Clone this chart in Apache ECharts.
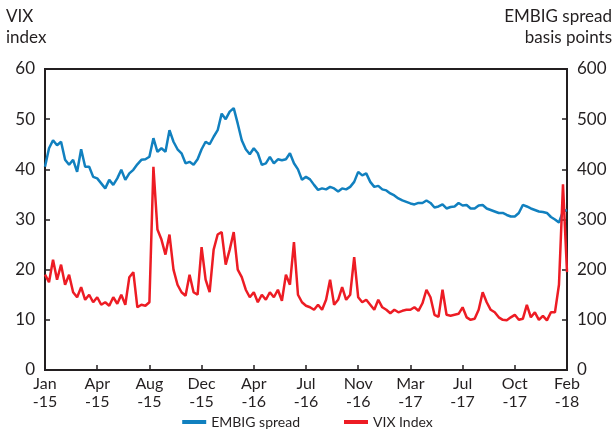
<!DOCTYPE html>
<html>
<head>
<meta charset="utf-8">
<script src="https://cdn.jsdelivr.net/npm/echarts@6/dist/echarts.min.js"></script>
<style>
  html, body { margin: 0; padding: 0; background: #fff; }
  #chart { width: 615px; height: 437px; }
</style>
</head>
<body>
<div id="chart"></div>
<script>
// tick labels, one every 13 points (points run Jan-15 .. Feb-18)
const tickLabels = ['Jan\n-15', 'Apr\n-15', 'Aug\n-15', 'Dec\n-15', 'Apr\n-16', 'Jul\n-16',
  'Nov\n-16', 'Mar\n-17', 'Jul\n-17', 'Oct\n-17', 'Feb\n-18']

// EMBIG spread, basis points (right axis)
const embig = [
  405, 442, 458, 448, 455, 419, 409, 419, 395, 440, 405, 405, 385,
  382, 372, 362, 379, 369, 382, 399, 379, 392, 399, 410, 419, 420,
  425, 462, 435, 442, 435, 478, 455, 440, 432, 412, 415, 409, 420,
  440, 455, 450, 465, 478, 511, 500, 515, 522, 491, 458, 440, 430,
  442, 432, 409, 412, 425, 412, 420, 418, 420, 432, 412, 400, 379,
  385, 380, 369, 359, 362, 360, 365, 362, 356, 362, 360, 365, 375,
  395, 388, 392, 375, 365, 367, 360, 358, 352, 348, 342, 338, 335,
  332, 330, 333, 333, 338, 333, 324, 326, 330, 322, 325, 326, 333,
  328, 329, 322, 322, 328, 329, 322, 319, 316, 313, 313, 309, 306,
  306, 313, 329, 326, 322, 319, 316, 315, 313, 305, 300, 294, 316,
  319
]

// VIX index (left axis)
const vix = [
  19, 17.5, 22, 18, 21, 17, 19, 15.5, 14.5, 16.5, 14, 15, 13.5,
  14.5, 13, 13.5, 12.8, 14.5, 13.2, 15, 13, 18.5, 19.5, 12.5, 13, 12.8,
  13.5, 40.5, 28, 26, 23, 27, 20, 17, 15.5, 14.8, 19, 15.5, 15,
  24.5, 18, 15.5, 24, 27, 27.5, 21, 24, 27.5, 20, 18.5, 16, 14.5,
  15.5, 13.5, 15, 14, 15.5, 14.5, 16, 13.8, 19, 17, 25.5, 15, 13.5,
  12.8, 12.5, 12, 13, 12, 14, 18, 13, 14, 16.5, 14, 15, 22.5,
  14.5, 13.5, 14, 13, 12, 14, 12.5, 12, 11.3, 12, 11.5, 11.8, 12,
  12, 12.5, 11.8, 13.3, 16, 14.5, 11, 10.6, 16, 11, 10.8, 11, 11.2,
  12.5, 10.5, 10, 10.2, 12, 15.5, 13.5, 12, 11.5, 10.5, 10, 9.9, 10.5,
  11, 10, 10.2, 13, 10.5, 11.5, 10, 10.8, 9.9, 11.5, 11.5, 17, 37,
  19.5
]

const categories = embig.map((v, i) => (i % 13 === 0 ? tickLabels[i / 13] : ''))

const chart = echarts.init(document.getElementById('chart'))

const ink = '#231f20'
const font = 'Lato, "Open Sans", sans-serif'

const option = {
  animation: false,
  textStyle: { fontFamily: font },
  grid: {
    left: 45, right: 48, top: 69, bottom: 67,
    show: true, borderColor: ink, borderWidth: 2
  },
  graphic: [
    { type: 'text', left: 6, top: 8, style: { text: 'VIX', font: '17px ' + font, fill: ink } },
    { type: 'text', left: 6, top: 29, style: { text: 'index', font: '17px ' + font, fill: ink } },
    { type: 'text', right: 3, top: 8, style: { text: 'EMBIG spread', font: '17px ' + font, fill: ink } },
    { type: 'text', right: 3, top: 29, style: { text: 'basis points', font: '17px ' + font, fill: ink } }
  ],
  legend: {
    bottom: 3,
    left: 'center',
    itemGap: 44,
    itemWidth: 24,
    itemHeight: 4,
    icon: 'rect',
    textStyle: { fontSize: 14, color: ink, fontFamily: font },
    data: ['EMBIG spread', 'VIX Index']
  },
  xAxis: {
    type: 'category',
    boundaryGap: false,
    data: categories,
    axisLine: { show: true, lineStyle: { color: ink, width: 2 } },
    axisTick: { show: true, inside: true, length: 5, interval: 12, lineStyle: { color: ink, width: 1.5 } },
    axisLabel: { interval: 12, color: ink, fontSize: 16, lineHeight: 18, margin: 5, fontFamily: font },
    splitLine: { show: false }
  },
  yAxis: [
    {
      type: 'value', min: 0, max: 60, interval: 10,
      axisLine: { show: true, lineStyle: { color: ink, width: 2 } },
      axisTick: { show: true, inside: true, length: 5, lineStyle: { color: ink, width: 1.5 } },
      axisLabel: { color: ink, fontSize: 17, margin: 10, fontFamily: font },
      splitLine: { show: false }
    },
    {
      type: 'value', min: 0, max: 600, interval: 100,
      axisLine: { show: true, lineStyle: { color: ink, width: 2 } },
      axisTick: { show: true, inside: true, length: 5, lineStyle: { color: ink, width: 1.5 } },
      axisLabel: { color: ink, fontSize: 17, margin: 10, fontFamily: font },
      splitLine: { show: false }
    }
  ],
  series: [
    {
      name: 'EMBIG spread',
      type: 'line',
      yAxisIndex: 1,
      data: embig,
      showSymbol: false,
      color: '#1180bf',
      lineStyle: { width: 2.5, color: '#1180bf' }
    },
    {
      name: 'VIX Index',
      type: 'line',
      yAxisIndex: 0,
      data: vix,
      showSymbol: false,
      color: '#ed1c24',
      lineStyle: { width: 2.5, color: '#ed1c24' }
    }
  ]
}

chart.setOption(option)
</script>
</body>
</html>
